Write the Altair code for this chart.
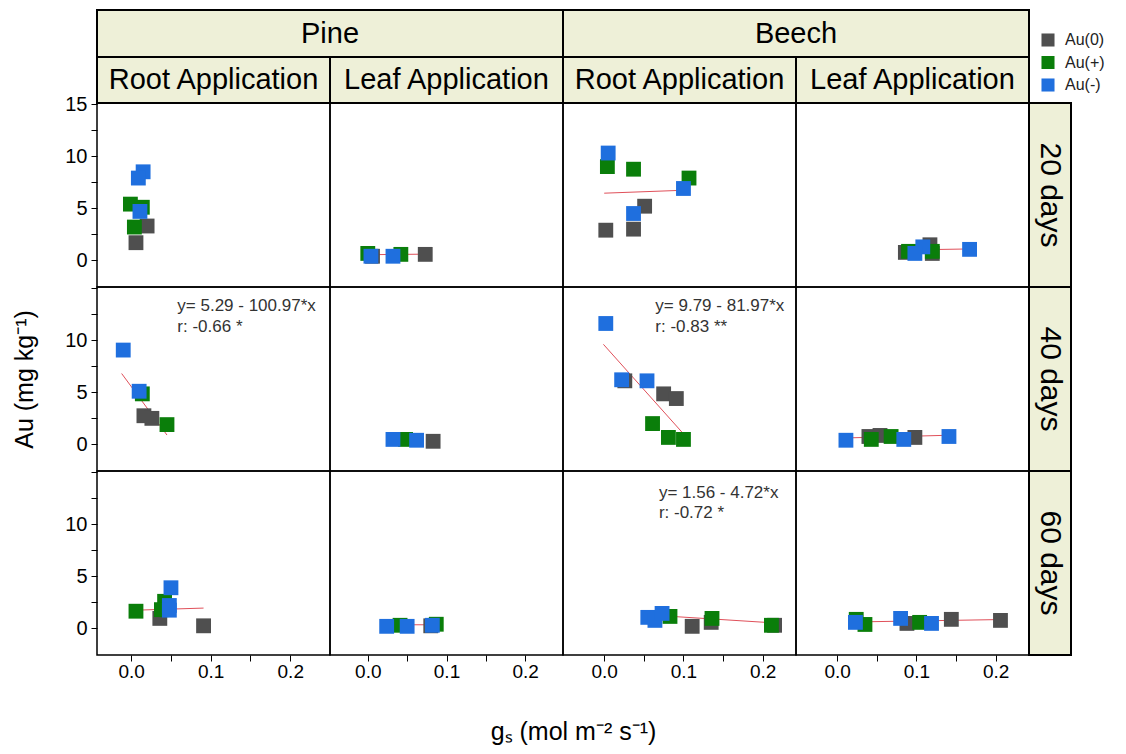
import altair as alt
import pandas as pd

GROUPS = ["Au(0)", "Au(+)", "Au(-)"]
COLORS = ["#4f4f4f", "#0a7e0a", "#1f6fde"]
SPECIES = ["Pine", "Beech"]
APPLICATIONS = ["Root Application", "Leaf Application"]
DAYS = ["20 days", "40 days", "60 days"]
X_TITLE = "gₛ (mol m⁻² s⁻¹)"
Y_TITLE = "Au (mg kg⁻¹)"

# (group, gs, Au)
pine_root_20 = [("Au(0)", 0.020, 3.3), ("Au(0)", 0.006, 1.7),
                ("Au(+)", -0.001, 5.4), ("Au(+)", 0.014, 5.1), ("Au(+)", 0.004, 3.2),
                ("Au(-)", 0.015, 8.5), ("Au(-)", 0.009, 7.9), ("Au(-)", 0.011, 4.7)]
pine_leaf_20 = [("Au(0)", 0.006, 0.40), ("Au(0)", 0.073, 0.58),
                ("Au(+)", 0.000, 0.67), ("Au(+)", 0.042, 0.58),
                ("Au(-)", 0.004, 0.40), ("Au(-)", 0.032, 0.40)]
beech_root_20 = [("Au(0)", 0.051, 5.2), ("Au(0)", 0.002, 2.9), ("Au(0)", 0.037, 3.0),
                 ("Au(+)", 0.004, 9.0), ("Au(+)", 0.037, 8.75), ("Au(+)", 0.107, 7.9),
                 ("Au(-)", 0.005, 10.3), ("Au(-)", 0.100, 6.9), ("Au(-)", 0.037, 4.5)]
beech_leaf_20 = [("Au(0)", 0.086, 0.77), ("Au(0)", 0.117, 1.5), ("Au(0)", 0.120, 0.67),
                 ("Au(+)", 0.090, 0.87), ("Au(+)", 0.120, 0.87),
                 ("Au(-)", 0.108, 1.3), ("Au(-)", 0.098, 0.67), ("Au(-)", 0.167, 1.06)]
pine_root_40 = [("Au(0)", 0.016, 2.75), ("Au(0)", 0.026, 2.5),
                ("Au(+)", 0.014, 4.85), ("Au(+)", 0.045, 1.9),
                ("Au(-)", -0.010, 9.05), ("Au(-)", 0.010, 5.1)]
pine_leaf_40 = [("Au(0)", 0.083, 0.30),
                ("Au(+)", 0.048, 0.48),
                ("Au(-)", 0.032, 0.48), ("Au(-)", 0.062, 0.40)]
beech_root_40 = [("Au(0)", 0.026, 6.1), ("Au(0)", 0.075, 4.85), ("Au(0)", 0.091, 4.4),
                 ("Au(+)", 0.061, 2.0), ("Au(+)", 0.081, 0.67), ("Au(+)", 0.100, 0.48),
                 ("Au(-)", 0.002, 11.6), ("Au(-)", 0.022, 6.2), ("Au(-)", 0.054, 6.1)]
beech_leaf_40 = [("Au(0)", 0.040, 0.76), ("Au(0)", 0.054, 0.86), ("Au(0)", 0.098, 0.67),
                 ("Au(+)", 0.043, 0.48), ("Au(+)", 0.068, 0.76),
                 ("Au(-)", 0.011, 0.40), ("Au(-)", 0.084, 0.48), ("Au(-)", 0.141, 0.76)]
pine_root_60 = [("Au(0)", 0.036, 0.96), ("Au(0)", 0.091, 0.25),
                ("Au(+)", 0.006, 1.65), ("Au(+)", 0.042, 2.6), ("Au(+)", 0.038, 1.8),
                ("Au(-)", 0.050, 3.9), ("Au(-)", 0.048, 2.2), ("Au(-)", 0.048, 1.75)]
pine_leaf_60 = [("Au(0)", 0.080, 0.25),
                ("Au(+)", 0.041, 0.30), ("Au(+)", 0.087, 0.40),
                ("Au(-)", 0.024, 0.20), ("Au(-)", 0.050, 0.20), ("Au(-)", 0.082, 0.30)]
beech_root_60 = [("Au(0)", 0.111, 0.20), ("Au(0)", 0.135, 0.58), ("Au(0)", 0.215, 0.30),
                 ("Au(+)", 0.083, 1.15), ("Au(+)", 0.136, 0.96), ("Au(+)", 0.211, 0.30),
                 ("Au(-)", 0.055, 1.06), ("Au(-)", 0.064, 0.77), ("Au(-)", 0.073, 1.44)]
beech_leaf_60 = [("Au(0)", 0.088, 0.48), ("Au(0)", 0.144, 0.87), ("Au(0)", 0.206, 0.77),
                 ("Au(+)", 0.024, 0.87), ("Au(+)", 0.035, 0.38), ("Au(+)", 0.104, 0.58),
                 ("Au(-)", 0.023, 0.58), ("Au(-)", 0.080, 0.96), ("Au(-)", 0.119, 0.48)]

PANEL_POINTS = [
    [pine_root_20, pine_leaf_20, beech_root_20, beech_leaf_20],
    [pine_root_40, pine_leaf_40, beech_root_40, beech_leaf_40],
    [pine_root_60, pine_leaf_60, beech_root_60, beech_leaf_60],
]

# fitted lines: (row, col) -> [(gs, Au), (gs, Au)]
FIT_LINES = {
    (0, 1): [(0.000, 0.55), (0.073, 0.60)],
    (0, 2): [(0.000, 6.45), (0.107, 6.75)],
    (0, 3): [(0.086, 1.00), (0.167, 1.10)],
    (1, 0): [(-0.012, 6.8), (0.045, 0.9)],
    (1, 2): [(-0.001, 9.6), (0.099, 1.1)],
    (1, 3): [(0.011, 0.62), (0.141, 0.88)],
    (2, 0): [(0.006, 1.75), (0.091, 1.95)],
    (2, 1): [(0.024, 0.35), (0.087, 0.35)],
    (2, 2): [(0.055, 1.30), (0.220, 0.50)],
    (2, 3): [(0.023, 0.62), (0.206, 0.85)],
}

# regression annotations: (row, col) -> [(gs, Au, text), ...]
ANNOTATIONS = {
    (1, 0): [(0.058, 12.75, "y= 5.29 - 100.97*x"), (0.058, 10.75, "r: -0.66 *")],
    (1, 2): [(0.0645, 12.75, "y= 9.79 - 81.97*x"), (0.0645, 10.75, "r: -0.83 **")],
    (2, 2): [(0.069, 12.5, "y= 1.56 - 4.72*x"), (0.069, 10.6, "r: -0.72 *")],
}

X_DOMAINS = [(-0.043, 0.25), (-0.048, 0.248), (-0.052, 0.242), (-0.052, 0.242)]
Y_DOMAIN = (-2.55, 15.1)
X_TICKS = [0.0, 0.05, 0.1, 0.15, 0.2]
Y_TICKS = [0, 2.5, 5, 7.5, 10, 12.5, 15]

PW, PH = 233, 184
HEAD1_H, HEAD2_H = 47, 46
LAB_W = 42
BEIGE = "#eef0d8"
FONT = "Liberation Sans"


def panel(ri, ci):
    pts = pd.DataFrame(PANEL_POINTS[ri][ci], columns=["group", "gs", "au"])
    pts["ord"] = pts["group"].map(GROUPS.index)
    pts = pts.sort_values("ord", kind="stable")

    xscale = alt.Scale(domain=list(X_DOMAINS[ci]), nice=False, zero=False)
    yscale = alt.Scale(domain=list(Y_DOMAIN), nice=False, zero=False)

    if ri == 2:
        xa = dict(values=X_TICKS,
                  labelExpr="(round(datum.value*100) % 10 == 0) ? format(datum.value, '.1f') : ''",
                  tickSize=6, labelFontSize=19, labelPadding=1, domain=False, grid=False,
                  tickColor="black", labelColor="black", labelFont=FONT)
        if ci == 0:
            xa.update(title=X_TITLE, titleX=476, titleY=76, titleBaseline="middle",
                      titleFontSize=25, titleFontWeight="normal", titleColor="black",
                      titleFont=FONT, titleAlign="center")
        else:
            xa.update(title=None)
        xaxis = alt.Axis(**xa)
    else:
        xaxis = None

    if ci == 0:
        expr = ("datum.value % 5 == 0 ? datum.label : ''" if ri == 0
                else "(datum.value % 5 == 0 && datum.value < 15) ? datum.label : ''")
        ya = dict(values=Y_TICKS, labelExpr=expr, tickSize=6, labelFontSize=20,
                  labelPadding=4, domain=False, grid=False, tickColor="black",
                  labelColor="black", labelFont=FONT)
        if ri == 1:
            ya.update(title=Y_TITLE, titleFontSize=25, titleFontWeight="normal",
                      titleColor="black", titlePadding=27, titleFont=FONT)
        else:
            ya.update(title=None)
        yaxis = alt.Axis(**ya)
    else:
        yaxis = None

    x = alt.X("gs:Q", scale=xscale, axis=xaxis)
    y = alt.Y("au:Q", scale=yscale, axis=yaxis)

    layers = []
    if (ri, ci) in FIT_LINES:
        ldf = pd.DataFrame(FIT_LINES[(ri, ci)], columns=["gs", "au"])
        layers.append(alt.Chart(ldf).mark_line(color="#e0505a", strokeWidth=1).encode(x=x, y=y))

    points = alt.Chart(pts).mark_square(size=220, opacity=1).encode(
        x=x, y=y,
        color=alt.Color("group:N",
                        scale=alt.Scale(domain=GROUPS, range=COLORS),
                        legend=alt.Legend(orient="none", legendX=943, legendY=22, title=None,
                                          symbolType="square", symbolSize=170,
                                          labelFontSize=16, labelFont=FONT, labelColor="#222",
                                          rowPadding=6.5, labelOffset=9, symbolStrokeWidth=0,
                                          symbolOpacity=1)),
        order=alt.Order("ord:Q"),
    )
    layers.append(points)

    if (ri, ci) in ANNOTATIONS:
        adf = pd.DataFrame(ANNOTATIONS[(ri, ci)], columns=["gs", "au", "label"])
        layers.append(alt.Chart(adf).mark_text(align="left", baseline="alphabetic",
                                               fontSize=17, font=FONT, color="#333333")
                      .encode(x=x, y=y, text="label:N"))

    return alt.layer(*layers).properties(
        width=PW, height=PH,
        view=alt.ViewBackground(stroke="black", strokeWidth=1.5))


def box(w, h, label, bw, bh, angle=0, fontsize=29):
    base = alt.Chart(pd.DataFrame({"t": [label]}))
    rect = base.mark_rect(fill=BEIGE, stroke="black", strokeWidth=2).encode(
        x=alt.value(0), x2=alt.value(bw), y=alt.value(0), y2=alt.value(bh))
    txt = base.mark_text(fontSize=fontsize, font=FONT, angle=angle, align="center",
                         baseline="middle", color="black").encode(
        x=alt.value(bw / 2), y=alt.value(bh / 2), text="t:N")
    return alt.layer(rect, txt).properties(
        width=w, height=h, view=alt.ViewBackground(stroke="transparent"))


def empty(w, h):
    return alt.Chart(pd.DataFrame({"t": [0]})).mark_point(opacity=0).encode(
        x=alt.value(0), y=alt.value(0)).properties(
        width=w, height=h, view=alt.ViewBackground(stroke="transparent"))


cells = []
# header row 1: species
cells += [box(PW, HEAD1_H, SPECIES[0], 2 * PW, HEAD1_H), empty(PW, HEAD1_H),
          box(PW, HEAD1_H, SPECIES[1], 2 * PW, HEAD1_H), empty(PW, HEAD1_H),
          empty(LAB_W, HEAD1_H)]
# header row 2: applications
cells += [box(PW, HEAD2_H, APPLICATIONS[i % 2], PW, HEAD2_H) for i in range(4)]
cells += [empty(LAB_W, HEAD2_H)]
for ri in range(3):
    for ci in range(4):
        cells.append(panel(ri, ci))
    cells.append(box(LAB_W, PH, DAYS[ri], LAB_W, PH, angle=90, fontsize=30))

chart = alt.concat(*cells, columns=5, spacing=0, bounds="flush", align="each").resolve_scale(
    x="independent", y="independent", color="shared"
).properties(
    padding={"left": 12, "top": 6, "right": 2, "bottom": 2},
    background="white",
).configure(font=FONT)

chart.save("out.html", embed_options={"renderer": "svg", "actions": False})
